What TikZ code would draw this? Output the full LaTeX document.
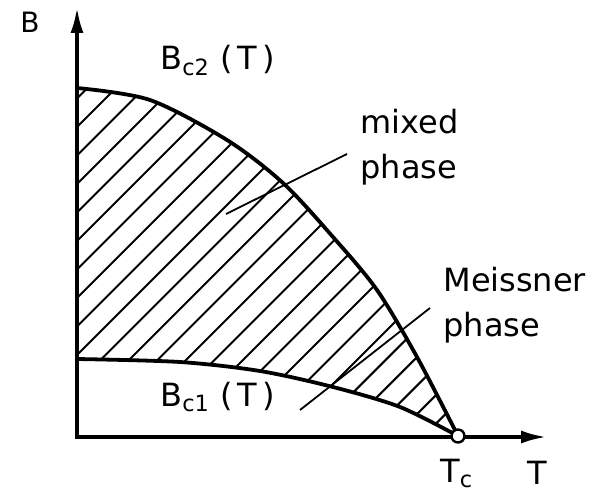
\documentclass[tikz,border=0pt]{standalone}
\usepackage{fontspec}
\setmainfont{DejaVu Sans}
\usetikzlibrary{arrows.meta}

\begin{document}
\begin{tikzpicture}[
    x=0.5pt, y=-0.5pt,
    every node/.style={font=\fontsize{16}{22.5}\selectfont, inner sep=0pt},
    axis/.style={line width=1.9pt, line join=miter,
        {Latex[length=13pt, width=6.5pt]}-{Latex[length=13pt, width=6.5pt]}},
    curve/.style={line width=1.9pt, line join=round},
    hatch/.style={line width=1.05pt},
    leader/.style={line width=0.9pt},
    phaselabel/.style={align=left, anchor=west},
    opendot/.style={circle, draw, line width=1.2pt, fill=white, minimum size=6.5pt}
  ]
  \useasboundingbox (0,0) rectangle (613,496);
  \coordinate (origin) at (77,437);
  \coordinate (ytip) at (77,7);
  \coordinate (xtip) at (547,437);
  \coordinate (tc) at (458,436);
  \begin{scope}
    \clip plot[smooth] coordinates {(77,88) (150,100) (227,140) (283,183) (333,237) (377,290) (417,357) (458,436)}
      -- plot[smooth] coordinates {(458,436) (400,407) (333,387) (260,371) (180,362) (77,359)} -- cycle;
    \foreach \k in {-12,...,14}
      \draw[hatch] ({489+28.5*\k-450},450) -- ({489+28.5*\k-50},50);
  \end{scope}
  \draw[axis] (ytip) -- (origin) -- (xtip);
  \draw[curve] plot[smooth] coordinates {(77,88) (150,100) (227,140) (283,183) (333,237) (377,290) (417,357) (458,436)};
  \draw[curve] plot[smooth] coordinates {(77,359) (180,362) (260,371) (333,387) (400,407) (458,436)};
  \node[anchor=base west, font=\fontsize{14}{16}\selectfont] (blab) at (20,33) {B};
  \node[anchor=base west] (bctwolab) at (160,70) {B\textsubscript{c2} (\,T\,)};
  \node[phaselabel] (mixlab) at (360,147) {mixed\\phase};
  \node[phaselabel] (meislab) at (443,305) {Meissner\\phase};
  \node[anchor=base west] (bconelab) at (160,406) {B\textsubscript{c1} (\,T\,)};
  \node[anchor=base west] (tclab) at (440,482) {T\textsubscript{c}};
  \node[anchor=base west] (tlab) at (527,484) {T};
  \coordinate (mixend) at (226,214);
  \coordinate (meisend) at (300,410);
  \draw[leader] ([shift={(-13,7)}]mixlab.west) -- (mixend);
  \draw[leader] ([shift={(-13,3)}]meislab.west) -- (meisend);
  \node[opendot] (tcdot) at (tc) {};
\end{tikzpicture}
\end{document}
